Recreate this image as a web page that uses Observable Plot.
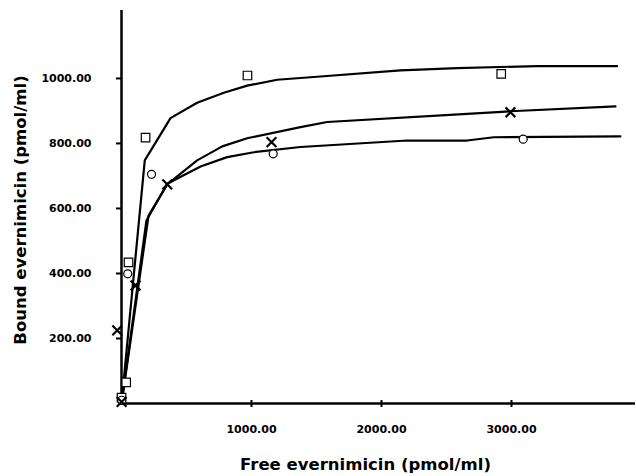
<!DOCTYPE html>
<html>
<head>
<meta charset="utf-8">
<script src="https://cdn.jsdelivr.net/npm/d3@7"></script>
<script src="https://cdn.jsdelivr.net/npm/@observablehq/plot@0.6"></script>
<style>
  html, body { margin: 0; padding: 0; background: #fff; }
  #chart svg { display: block; }
</style>
</head>
<body>
<div id="chart"></div>
<script>
// Tick values
const xTicks = [1000, 2000, 3000];
const yTicks = [200, 400, 600, 800, 1000];

// Observed points (free, bound) per series
const squareX = [0, 36, 54, 185, 969, 2921];
const squareY = [18, 65, 434, 818, 1009, 1014];
const circleX = [2, 48, 231, 1167, 3090];
const circleY = [10, 399, 705, 768, 813];
const timesX = [1, -33, 108, 352, 1154, 2992];
const timesY = [5, 225, 363, 674, 804, 896];

// Fitted curves
const fitSquareX = [0, 179, 377, 582, 787, 967, 1198, 1531, 2146, 2582, 3198, 3813];
const fitSquareY = [0, 748, 878, 925, 956, 978, 996, 1006, 1025, 1032, 1038, 1038];
const fitTimesX = [0, 208, 352, 582, 775, 967, 1377, 1582, 2659, 2992, 3800];
const fitTimesY = [0, 578, 674, 748, 791, 816, 850, 866, 891, 899, 914];
const fitCircleX = [0, 192, 352, 608, 813, 1018, 1377, 2198, 2659, 2864, 3838];
const fitCircleY = [0, 563, 676, 729, 758, 773, 789, 809, 809, 819, 822];

const zip = (xs, ys) => xs.map((x, i) => ({x, y: ys[i]}));
const squares = zip(squareX, squareY);
const circles = zip(circleX, circleY);
const times = zip(timesX, timesY);
const fits = [zip(fitSquareX, fitSquareY), zip(fitTimesX, fitTimesY), zip(fitCircleX, fitCircleY)];

const font = "DejaVu Sans, Verdana, sans-serif";

const chart = Plot.plot({
  width: 636,
  height: 476,
  marginLeft: 121,
  marginRight: 1,
  marginTop: 10,
  marginBottom: 73,
  style: {fontFamily: font, fontSize: "11px", fontWeight: "bold", color: "#000", background: "#fff"},
  x: {domain: [0, 3954]},
  y: {domain: [0, 1209]},
  marks: [
    // tick marks crossing the x axis
    Plot.axisX({ticks: xTicks, tickSize: 7, dy: -3, tickFormat: () => "", strokeWidth: 2, label: null}),
    Plot.axisX({ticks: xTicks, tickSize: 0, tickPadding: 22, tickFormat: d3.format(".2f"), label: null}),
    Plot.axisY({ticks: yTicks, tickSize: 5, tickPadding: 25, tickFormat: d3.format(".2f"), strokeWidth: 2, label: null}),
    Plot.ruleY([0], {x1: -20, x2: 3954, strokeWidth: 2.5}),
    Plot.ruleX([0], {y1: 0, y2: 1209, strokeWidth: 2.5}),
    ...fits.map(f => Plot.line(f, {x: "x", y: "y", stroke: "#000", strokeWidth: 2.2})),
    Plot.dot(squares, {x: "x", y: "y", symbol: "square", r: 4.8, fill: "#fff", stroke: "#000", strokeWidth: 1.2}),
    Plot.dot(circles, {x: "x", y: "y", symbol: "circle", r: 4, fill: "#fff", stroke: "#000", strokeWidth: 1.2}),
    Plot.dot(times, {x: "x", y: "y", symbol: "times", r: 4.5, stroke: "#000", strokeWidth: 2.2}),
    Plot.text(["Free evernimicin (pmol/ml)"], {frameAnchor: "bottom", textAnchor: "middle", dx: -13, dy: 66, fontSize: 16.5, fontWeight: "bold", fill: "#000"}),
    Plot.text(["Bound evernimicin (pmol/ml)"], {frameAnchor: "left", textAnchor: "middle", dx: -101, dy: 3, rotate: -90, fontSize: 16.5, fontWeight: "bold", fill: "#000"})
  ]
});
document.getElementById("chart").appendChild(chart);
</script>
</body>
</html>
